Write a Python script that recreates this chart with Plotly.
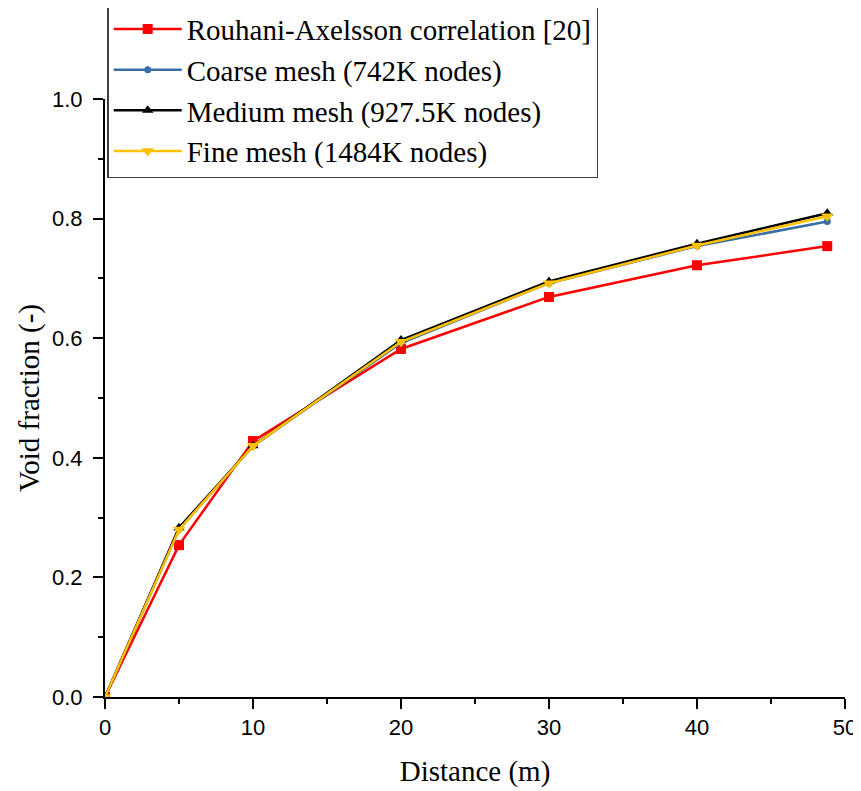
import plotly.graph_objects as go

distance = [0, 5, 10, 20, 30, 40, 48.8]
rouhani = [0, 0.254, 0.428, 0.582, 0.669, 0.722, 0.754]
coarse = [0, 0.280, 0.420, 0.592, 0.692, 0.754, 0.795]
medium = [0, 0.283, 0.420, 0.597, 0.695, 0.758, 0.809]
fine = [0, 0.280, 0.420, 0.594, 0.692, 0.755, 0.804]

names = ["Rouhani-Axelsson correlation [20]", "Coarse mesh (742K nodes)",
         "Medium mesh (927.5K nodes)", "Fine mesh (1484K nodes)"]

fig = go.Figure()
series = [
    (rouhani, names[0], "#FF0000", "square", 10),
    (coarse, names[1], "#3A6EA5", "circle", 7),
    (medium, names[2], "#000000", "triangle-up", 10),
    (fine, names[3], "#FFC000", "triangle-down", 11),
]
for ys, nm, col, sym, sz in series:
    fig.add_trace(go.Scatter(
        x=distance, y=ys, name=nm, mode="lines+markers",
        line=dict(color=col, width=2.5),
        marker=dict(symbol=sym, size=sz, color=col, line=dict(width=0)),
    ))

tickfont = dict(family="Liberation Sans, Arial", size=22, color="black")
titlefont = dict(family="Liberation Serif, Times New Roman", size=29, color="black")

fig.update_layout(
    width=853, height=783,
    margin=dict(l=97, r=16, t=91, b=94, autoexpand=False),
    paper_bgcolor="white", plot_bgcolor="white",
    showlegend=True,
    legend=dict(
        x=0.003, y=1.162, xanchor="left", yanchor="top",
        bgcolor="white", bordercolor="#404040", borderwidth=1.5,
        font=dict(family="Liberation Serif, Times New Roman", size=29, color="black"),
        itemwidth=68, tracegroupgap=0,
    ),
    xaxis=dict(
        range=[0, 50], tickmode="linear", tick0=0, dtick=10,
        showgrid=False, zeroline=False, automargin=False,
        showline=True, linecolor="black", linewidth=2,
        ticks="outside", ticklen=10, tickwidth=2, tickcolor="black",
        tickfont=tickfont,
        minor=dict(ticks="outside", ticklen=5, tickwidth=2, tickcolor="black", dtick=5, tick0=0),
        title=dict(text="Distance (m)", font=titlefont, standoff=21),
    ),
    yaxis=dict(
        range=[0, 1.0], tickmode="linear", tick0=0, dtick=0.2, tickformat=".1f",
        showgrid=False, zeroline=False, automargin=False,
        showline=True, linecolor="black", linewidth=2,
        ticks="outside", ticklen=10, tickwidth=2, tickcolor="black",
        tickfont=tickfont, ticklabelstandoff=6,
        minor=dict(ticks="outside", ticklen=5, tickwidth=2, tickcolor="black", dtick=0.1, tick0=0),
        title=dict(text="Void fraction (-)", font=titlefont, standoff=4),
    ),
)

fig.write_html("out.html")
